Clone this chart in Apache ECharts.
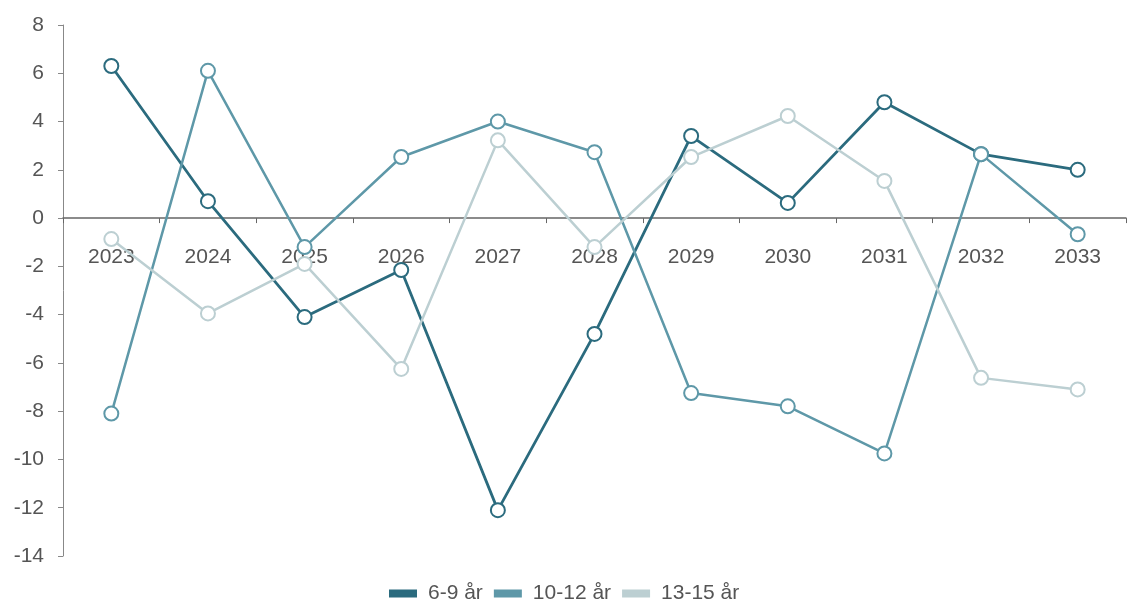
<!DOCTYPE html>
<html>
<head>
<meta charset="utf-8">
<script src="https://cdn.jsdelivr.net/npm/echarts@6/dist/echarts.min.js"></script>
<style>
html,body{margin:0;padding:0;background:#fff;}
#chart{width:1127px;height:609px;}
</style>
</head>
<body>
<div id="chart"></div>
<script>
const categories = ['2023','2024','2025','2026','2027','2028','2029','2030','2031','2032','2033'];
const seriesNames = ['6-9 år','10-12 år','13-15 år'];
const values69 = [6.3, 0.7, -4.1, -2.15, -12.1, -4.8, 3.4, 0.63, 4.8, 2.65, 2.0];
const values1012 = [-8.1, 6.1, -1.2, 2.53, 4.0, 2.73, -7.25, -7.8, -9.75, 2.65, -0.67];
const values1315 = [-0.87, -3.95, -1.9, -6.25, 3.22, -1.2, 2.53, 4.23, 1.54, -6.62, -7.1];
const yTicks = {min: -14, max: 8, interval: 2};
const colors = ['#2b6b7e', '#5e98a8', '#bccfd2'];

const chart = echarts.init(document.getElementById('chart'), null, {renderer: 'canvas'});
const font = 'Liberation Sans, Arial, sans-serif';
const gridBottom = 53;
function mk(name, data, color, w) {
  return {
    name: name, type: 'line', data: data,
    symbol: 'emptyCircle', symbolSize: 14,
    lineStyle: {color: color, width: w},
    itemStyle: {color: color, borderWidth: w + 0.5, borderColor: color},
    emphasis: {disabled: true}
  };
}
chart.setOption({
  animation: false,
  textStyle: {fontFamily: font},
  grid: {left: 63, right: 1, top: 25, bottom: gridBottom, containLabel: false},
  legend: {
    top: 578, left: 384,
    itemWidth: 26, itemHeight: 6, itemGap: 11,
    icon: 'rect',
    textStyle: {fontSize: 21, color: '#555', fontFamily: font, padding: [0, 0, 0, 7]},
    data: seriesNames
  },
  xAxis: {
    type: 'category', data: categories, boundaryGap: true, position: 'bottom',
    axisLine: {onZero: false, lineStyle: {color: '#666', width: 1.5}},
    axisTick: {show: true, alignWithLabel: false, length: 5, lineStyle: {color: '#666'}},
    axisLabel: {fontSize: 21, color: '#555', margin: 29, fontFamily: font},
    splitLine: {show: false}
  },
  yAxis: {
    type: 'value', min: yTicks.min, max: yTicks.max, interval: yTicks.interval,
    axisLine: {show: true, lineStyle: {color: '#888', width: 1}},
    axisTick: {show: true, length: 5, lineStyle: {color: '#888'}},
    axisLabel: {fontSize: 21, color: '#555', margin: 19, fontFamily: font},
    splitLine: {show: false}
  },
  series: [
    mk(seriesNames[0], values69, colors[0], 2.8),
    mk(seriesNames[1], values1012, colors[1], 2.5),
    mk(seriesNames[2], values1315, colors[2], 2.5)
  ]
});
const zeroY = chart.convertToPixel({yAxisIndex: 0}, 0);
const bottomY = chart.getHeight() - gridBottom;
chart.setOption({xAxis: {offset: -(bottomY - zeroY)}});
</script>
</body>
</html>
